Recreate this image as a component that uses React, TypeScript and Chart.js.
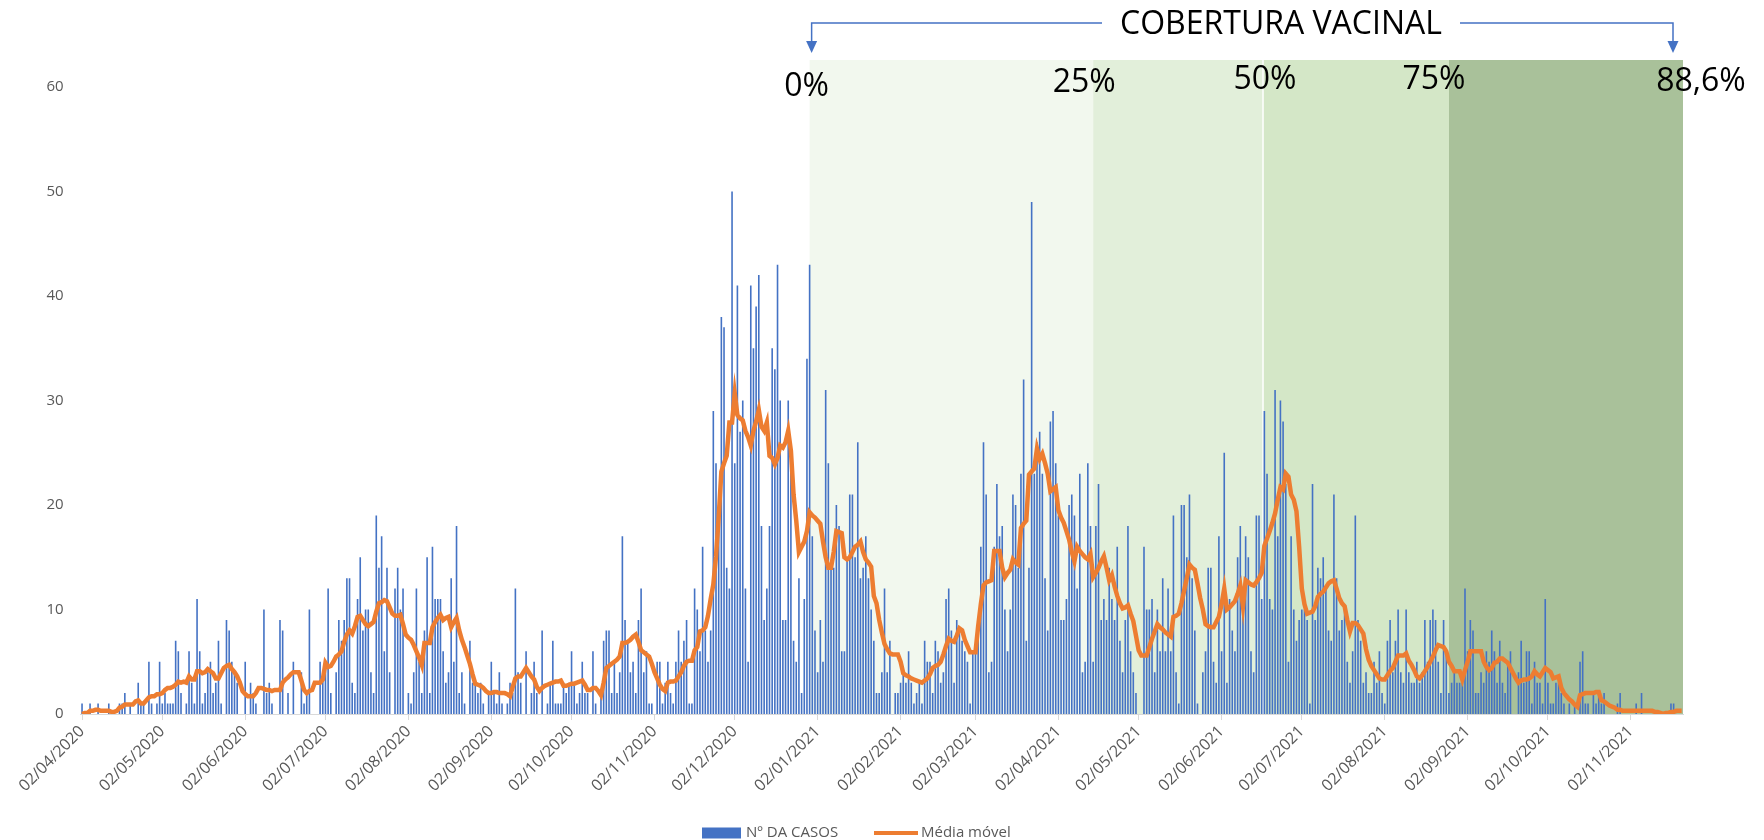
import React, { useEffect, useRef } from 'react';
import { Chart, registerables } from 'chart.js';

Chart.register(...registerables);

// ---------- DATA ----------
const START_DATE = '02/04/2020';

// Nº DA CASOS (daily cases), one value per day from 02/04/2020
const CASES: number[] = [
  1, 0, 0, 1, 0, 0, 1, 0, 0, 0,
  1, 0, 0, 0, 1, 1, 2, 0, 1, 0,
  0, 3, 1, 1, 0, 5, 1, 0, 1, 5,
  1, 2, 1, 1, 1, 7, 6, 2, 0, 1,
  6, 3, 1, 11, 6, 1, 2, 4, 5, 2,
  3, 7, 1, 0, 9, 8, 5, 4, 3, 0,
  0, 5, 0, 3, 2, 1, 0, 0, 10, 2,
  3, 1, 0, 0, 9, 8, 0, 2, 0, 5,
  0, 0, 4, 1, 2, 10, 0, 0, 0, 5,
  4, 5, 12, 2, 0, 4, 9, 7, 9, 13,
  13, 3, 2, 11, 15, 8, 10, 10, 4, 2,
  19, 14, 17, 6, 14, 4, 0, 12, 14, 10,
  12, 0, 2, 1, 4, 12, 5, 2, 8, 15,
  2, 16, 11, 11, 11, 6, 3, 4, 13, 5,
  18, 2, 4, 1, 0, 7, 3, 3, 2, 3,
  1, 0, 2, 5, 2, 1, 4, 1, 0, 1,
  3, 2, 12, 4, 3, 0, 6, 0, 2, 5,
  2, 0, 8, 0, 1, 3, 7, 1, 1, 1,
  3, 2, 3, 6, 3, 1, 2, 5, 2, 2,
  0, 6, 1, 0, 2, 7, 8, 8, 2, 5,
  2, 4, 17, 9, 7, 4, 5, 2, 9, 12,
  4, 6, 1, 1, 0, 5, 5, 1, 3, 5,
  2, 1, 5, 8, 5, 7, 9, 1, 1, 12,
  10, 6, 16, 8, 5, 8, 29, 24, 20, 38,
  37, 14, 12, 50, 24, 41, 27, 30, 12, 5,
  41, 35, 39, 42, 18, 9, 12, 18, 35, 33,
  43, 30, 9, 9, 30, 26, 7, 5, 13, 2,
  11, 34, 43, 17, 8, 4, 9, 5, 31, 24,
  14, 14, 20, 18, 6, 6, 15, 21, 21, 15,
  26, 13, 14, 17, 13, 10, 7, 2, 2, 4,
  12, 4, 7, 0, 2, 2, 3, 4, 3, 6,
  3, 1, 2, 3, 1, 7, 5, 5, 2, 7,
  6, 3, 4, 11, 12, 8, 3, 9, 8, 7,
  6, 5, 1, 6, 6, 9, 16, 26, 21, 4,
  5, 16, 22, 17, 18, 10, 6, 10, 21, 20,
  14, 23, 32, 7, 14, 49, 23, 26, 27, 23,
  13, 8, 28, 29, 24, 19, 9, 9, 11, 20,
  21, 19, 12, 23, 4, 5, 24, 18, 5, 18,
  22, 9, 11, 9, 14, 11, 9, 16, 7, 4,
  9, 18, 6, 4, 2, 0, 0, 16, 10, 10,
  11, 4, 10, 6, 13, 6, 12, 6, 19, 4,
  1, 20, 20, 15, 21, 13, 8, 1, 0, 4,
  6, 14, 14, 5, 3, 17, 6, 25, 3, 11,
  8, 6, 15, 18, 10, 17, 15, 6, 4, 19,
  19, 11, 29, 23, 11, 10, 31, 17, 30, 28,
  22, 5, 17, 10, 7, 9, 10, 10, 9, 1,
  22, 9, 14, 13, 15, 12, 8, 7, 21, 13,
  8, 9, 10, 5, 3, 6, 19, 9, 7, 3,
  4, 2, 2, 5, 3, 6, 2, 1, 7, 9,
  4, 7, 10, 4, 3, 10, 4, 3, 3, 5,
  3, 4, 9, 5, 9, 10, 9, 5, 2, 9,
  6, 2, 3, 4, 3, 3, 4, 12, 6, 9,
  8, 2, 2, 4, 3, 6, 5, 8, 6, 3,
  7, 3, 2, 5, 6, 0, 0, 4, 7, 3,
  6, 6, 1, 5, 3, 3, 1, 11, 3, 1,
  1, 3, 3, 2, 1, 0, 1, 0, 1, 0,
  5, 6, 1, 1, 0, 2, 1, 2, 1, 2,
  0, 0, 0, 0, 1, 2, 0, 0, 0, 0,
  0, 1, 0, 2, 0, 0, 0, 0, 0, 0,
  0, 0, 0, 0, 1, 1, 0, 0, 0,
];

// Média móvel, one value per day
const MOVING_AVG: number[] = [
  0, 0.1, 0.1, 0.3, 0.3, 0.4, 0.4, 0.3, 0.3, 0.3,
  0.3, 0.2, 0.2, 0.3, 0.6, 0.7, 0.9, 0.9, 0.9, 0.9,
  1.2, 1.3, 1.0, 1.0, 1.3, 1.6, 1.7, 1.7, 1.9, 1.9,
  2.0, 2.3, 2.5, 2.5, 2.6, 2.8, 3.1, 3.0, 3.1, 3.0,
  3.6, 3.3, 3.3, 4.1, 4.1, 3.9, 4.0, 4.3, 4.1, 3.9,
  3.4, 3.4, 3.9, 4.4, 4.6, 4.7, 4.3, 4.0, 3.6, 3.0,
  2.2, 1.9, 1.7, 1.7, 1.7, 2.0, 2.5, 2.5, 2.4, 2.3,
  2.3, 2.2, 2.3, 2.3, 2.3, 3.0, 3.3, 3.5, 3.8, 4.0,
  4.0, 4.0, 3.2, 2.3, 2.0, 2.2, 2.3, 3.0, 3.0, 3.0,
  3.3, 4.9, 4.5, 4.6, 5.0, 5.5, 5.7, 6.0, 6.9, 7.6,
  8.0, 7.7, 8.4, 9.3, 9.4, 9.0, 8.6, 8.4, 8.6, 8.8,
  9.8, 10.6, 10.7, 10.9, 10.8, 10.2, 9.6, 9.4, 9.4, 9.5,
  8.6, 7.6, 7.3, 7.1, 6.6, 6.0, 5.4, 4.7, 6.8, 6.8,
  6.8, 8.3, 8.8, 9.2, 9.5, 9.0, 9.2, 9.3, 8.3, 8.8,
  9.2, 8.0, 7.1, 6.4, 5.6, 4.8, 3.8, 2.9, 2.8, 2.7,
  2.5, 2.2, 2.0, 2.0, 2.1, 2.1, 2.0, 2.0, 2.0, 1.9,
  1.7, 2.6, 3.4, 3.6, 3.6, 4.0, 4.4, 4.0, 3.6, 3.3,
  2.6, 2.2, 2.5, 2.7, 2.8, 2.9, 3.0, 3.1, 3.1, 3.2,
  2.7, 2.7, 2.8, 2.9, 2.9, 3.0, 3.1, 3.2, 2.8, 2.3,
  2.3, 2.5, 2.5, 2.2, 1.8, 3.0, 4.4, 4.6, 4.8, 5.0,
  5.2, 5.5, 6.8, 6.8, 6.9, 7.1, 7.4, 7.6, 6.9, 6.1,
  5.9, 5.7, 5.5, 4.8, 4.0, 3.4, 2.8, 2.4, 2.2, 3.0,
  3.1, 3.1, 3.2, 3.6, 4.0, 4.6, 5.0, 5.1, 5.1, 6.1,
  6.4, 7.9, 8.0, 8.3, 9.4, 11.0, 12.4, 15.1, 18.8, 23.2,
  24.0, 24.7, 27.9, 27.9, 30.7, 28.6, 28.3, 28.1, 27.1, 26.5,
  25.7, 27.1, 28.0, 29.1, 27.5, 27.1, 27.9, 24.7, 24.5, 23.9,
  24.5, 25.7, 25.5, 26.0, 27.1, 25.2, 21.0, 18.5, 15.5, 16.0,
  16.5, 17.5, 19.3, 19.0, 18.8, 18.5, 18.2, 16.5, 15.0, 14.0,
  14.0, 15.5, 17.5, 17.4, 17.3, 15.0, 14.8, 15.0, 15.5, 16.0,
  16.2, 16.5, 15.5, 14.8, 14.5, 14.1, 11.3, 10.6, 9.0, 7.8,
  6.7, 6.2, 5.8, 5.7, 5.7, 5.7, 5.0, 3.9, 3.7, 3.6,
  3.4, 3.3, 3.2, 3.1, 3.0, 3.2, 3.4, 3.8, 4.4, 4.6,
  4.7, 5.0, 5.7, 6.5, 7.2, 7.0, 6.9, 7.5, 8.2, 8.0,
  7.1, 6.5, 5.9, 5.9, 5.9, 8.4, 10.5, 12.3, 12.6, 12.7,
  12.8, 15.6, 15.6, 15.6, 14.0, 13.1, 13.5, 13.8, 14.8, 14.5,
  14.3, 17.8, 18.2, 18.5, 22.9, 23.2, 23.5, 25.4, 24.4, 24.9,
  24.0, 23.0, 21.3, 21.5, 21.7, 19.5, 18.8, 18.3, 17.5, 16.7,
  15.5, 14.6, 16.0, 15.6, 15.3, 15.0, 14.8, 15.3, 13.1, 13.5,
  14.0, 14.6, 15.1, 14.0, 12.8, 13.3, 12.2, 11.3, 10.6, 10.1,
  10.2, 10.4, 9.6, 8.9, 7.5, 6.1, 5.6, 5.6, 5.6, 6.4,
  7.2, 7.9, 8.6, 8.3, 8.1, 7.8, 7.6, 7.4, 9.3, 9.4,
  9.6, 10.6, 11.8, 13.0, 14.3, 14.0, 13.8, 12.5, 11.1, 10.0,
  8.6, 8.4, 8.3, 8.3, 8.8, 9.3, 10.5, 12.0, 10.0, 10.2,
  10.5, 10.8, 11.5, 12.3, 10.3, 12.8, 12.6, 12.4, 12.3, 12.6,
  13.0, 13.5, 16.1, 16.8, 17.5, 18.3, 19.2, 20.5, 21.7, 21.5,
  23.0, 22.7, 21.0, 20.5, 19.4, 16.0, 12.0, 10.5, 9.6, 9.7,
  9.8, 10.3, 11.2, 11.5, 11.7, 12.1, 12.5, 12.7, 12.8, 12.0,
  11.1, 10.6, 10.3, 9.0, 7.9, 8.7, 8.7, 8.5, 8.1, 7.7,
  6.2, 5.2, 4.6, 4.2, 3.8, 3.4, 3.3, 3.3, 3.7, 4.1,
  4.4, 5.0, 5.6, 5.6, 5.6, 5.8, 5.1, 4.7, 4.2, 3.6,
  3.4, 3.7, 4.1, 4.5, 5.0, 5.5, 6.1, 6.6, 6.5, 6.4,
  6.0, 5.0, 4.6, 4.1, 4.1, 4.1, 3.3, 4.2, 5.0, 6.0,
  6.0, 6.0, 6.0, 6.0, 5.0, 4.5, 4.2, 4.4, 4.9, 5.0,
  5.3, 5.3, 5.1, 4.9, 4.4, 3.9, 3.4, 3.0, 3.2, 3.3,
  3.3, 3.4, 3.6, 4.1, 3.8, 3.6, 4.0, 4.4, 4.2, 4.0,
  3.4, 3.5, 3.6, 2.5, 2.0, 1.7, 1.4, 1.2, 0.9, 0.7,
  1.8, 1.9, 2.0, 2.0, 2.0, 2.0, 2.1, 2.1, 1.3, 1.2,
  1.0, 0.8, 0.7, 0.6, 0.4, 0.4, 0.3, 0.3, 0.3, 0.3,
  0.3, 0.3, 0.3, 0.3, 0.3, 0.3, 0.3, 0.3, 0.2, 0.2,
  0.1, 0.0, 0.1, 0.1, 0.2, 0.2, 0.3, 0.3, 0.3,
];

const MONTH_TICKS: string[] = [
  '02/04/2020', '02/05/2020', '02/06/2020', '02/07/2020', '02/08/2020',
  '02/09/2020', '02/10/2020', '02/11/2020', '02/12/2020', '02/01/2021',
  '02/02/2021', '02/03/2021', '02/04/2021', '02/05/2021', '02/06/2021',
  '02/07/2021', '02/08/2021', '02/09/2021', '02/10/2021', '02/11/2021',
];

const Y_TICKS: number[] = [0, 10, 20, 30, 40, 50, 60];

const SERIES_NAMES = ['Nº DA CASOS', 'Média móvel'];
const SERIES_COLORS = ['#4472C4', '#ED7D31'];

const COVERAGE_TITLE = 'COBERTURA VACINAL';
const COVERAGE_LABELS = ['0%', '25%', '50%', '75%', '88,6%'];
const COVERAGE_DATES = ['30/12/2020', '15/04/2021', '17/06/2021', '26/08/2021', '21/11/2021'];
const BAND_COLORS = ['#F2F8EE', '#E2EFDA', '#D4E7C7', '#A9C19A'];

// ---------- helpers ----------
const pad2 = (n: number) => (n < 10 ? '0' + n : String(n));
function buildDayLabels(start: string, count: number): string[] {
  const [d, m, y] = start.split('/').map(Number);
  const out: string[] = [];
  for (let i = 0; i < count; i++) {
    const dt = new Date(Date.UTC(y, m - 1, d + i));
    out.push(`${pad2(dt.getUTCDate())}/${pad2(dt.getUTCMonth() + 1)}/${dt.getUTCFullYear()}`);
  }
  return out;
}

const FONT = "'Open Sans', 'DejaVu Sans', sans-serif";

export default function App() {
  const canvasRef = useRef<HTMLCanvasElement | null>(null);

  useEffect(() => {
    const canvas = canvasRef.current;
    if (!canvas) return;
    const labels = buildDayLabels(START_DATE, CASES.length);
    const monthSet = new Set(MONTH_TICKS);

    const coveragePlugin = {
      id: 'coverage',
      beforeDraw(chart: any) {
        const { ctx, chartArea, scales } = chart;
        const x = scales.x;
        const half = (x.getPixelForValue(1) - x.getPixelForValue(0)) / 2;
        const xs = COVERAGE_DATES.map((d, i) => {
          const idx = labels.indexOf(d);
          if (i === COVERAGE_DATES.length - 1) return chartArea.right;
          return x.getPixelForValue(idx) + (i === 2 ? half : 0);
        });
        const top = chartArea.top - 27;
        ctx.save();
        for (let i = 0; i < BAND_COLORS.length; i++) {
          ctx.fillStyle = BAND_COLORS[i];
          ctx.fillRect(xs[i], top, xs[i + 1] - xs[i], chartArea.bottom - top);
        }
        ctx.strokeStyle = '#FFFFFF';
        ctx.lineWidth = 1.5;
        ctx.beginPath();
        ctx.moveTo(xs[2], top);
        ctx.lineTo(xs[2], chartArea.bottom);
        ctx.stroke();
        ctx.restore();
        (chart as any).$coverageXs = xs;
      },
      afterDraw(chart: any) {
        const { ctx, chartArea } = chart;
        const xs: number[] = (chart as any).$coverageXs;
        if (!xs) return;
        ctx.save();
        // percentage labels
        ctx.font = `32px ${FONT}`;
        ctx.fillStyle = '#000000';
        ctx.textAlign = 'center';
        ctx.textBaseline = 'middle';
        const dx = [-3, -9, 2, -15, 18];
        const yc = [87, 83, 80, 80, 82];
        COVERAGE_LABELS.forEach((t, i) => {
          ctx.fillText(t, xs[i] + dx[i], yc[i]);
        });
        // bracket with title
        const lineY = 23;
        const left = xs[0] + 2;
        const right = chartArea.right - 10;
        const cx = 1281;
        const tw = ctx.measureText(COVERAGE_TITLE).width;
        ctx.fillText(COVERAGE_TITLE, cx, 25);
        ctx.strokeStyle = '#4472C4';
        ctx.fillStyle = '#4472C4';
        ctx.lineWidth = 1.5;
        ctx.beginPath();
        ctx.moveTo(left, 42);
        ctx.lineTo(left, lineY);
        ctx.lineTo(cx - tw / 2 - 18, lineY);
        ctx.moveTo(cx + tw / 2 + 18, lineY);
        ctx.lineTo(right, lineY);
        ctx.lineTo(right, 42);
        ctx.stroke();
        [left, right].forEach((ax) => {
          ctx.beginPath();
          ctx.moveTo(ax - 5.5, 41);
          ctx.lineTo(ax + 5.5, 41);
          ctx.lineTo(ax, 53);
          ctx.closePath();
          ctx.fill();
        });
        // legend
        const ly = 833;
        ctx.font = `15px ${FONT}`;
        ctx.textAlign = 'left';
        ctx.textBaseline = 'middle';
        ctx.fillStyle = SERIES_COLORS[0];
        ctx.fillRect(702, ly - 5.5, 39, 11);
        ctx.fillStyle = '#595959';
        ctx.fillText(SERIES_NAMES[0], 746, ly);
        ctx.strokeStyle = SERIES_COLORS[1];
        ctx.lineWidth = 4;
        ctx.beginPath();
        ctx.moveTo(874, ly);
        ctx.lineTo(918, ly);
        ctx.stroke();
        ctx.fillText(SERIES_NAMES[1], 921, ly);
        ctx.restore();
      },
    };

    Chart.defaults.font.family = FONT;

    const chart = new Chart(canvas, {
      type: 'bar',
      data: {
        labels,
        datasets: [
          {
            type: 'line',
            label: SERIES_NAMES[1],
            data: MOVING_AVG.slice(0, labels.length),
            borderColor: SERIES_COLORS[1],
            backgroundColor: SERIES_COLORS[1],
            borderWidth: 4.5,
            pointRadius: 0,
            tension: 0,
            order: 0,
          } as any,
          {
            type: 'bar',
            label: SERIES_NAMES[0],
            data: CASES,
            backgroundColor: SERIES_COLORS[0],
            barPercentage: 0.6,
            categoryPercentage: 1.0,
            order: 1,
          },
        ],
      },
      options: {
        responsive: false,
        animation: false,
        layout: { padding: { top: 87, right: 81, left: 0, bottom: 36 }, autoPadding: false } as any,
        plugins: {
          legend: { display: false },
          tooltip: { enabled: false },
        },
        scales: {
          x: {
            type: 'category',
            offset: true,
            grid: {
              display: true,
              drawOnChartArea: false,
              drawTicks: true,
              tickLength: 6,
              offset: false,
              color: (c: any) => (c.tick && monthSet.has(labels[c.index]) ? '#D9D9D9' : 'rgba(0,0,0,0)'),
            },
            border: { display: true, color: '#D9D9D9', width: 1 },
            ticks: {
              autoSkip: false,
              maxRotation: 45,
              minRotation: 45,
              color: '#595959',
              font: { size: 16 },
              padding: 2,
              callback: (_v: any, i: number) => (monthSet.has(labels[i]) ? labels[i] : ''),
            },
            afterFit: (s: any) => {
              s.height = 90;
            },
          },
          y: {
            min: Y_TICKS[0],
            max: Y_TICKS[Y_TICKS.length - 1],
            grid: { display: false, drawTicks: false },
            border: { display: false },
            ticks: {
              stepSize: Y_TICKS[1] - Y_TICKS[0],
              color: '#595959',
              font: { size: 15 },
              padding: 17,
            },
            afterFit: (s: any) => {
              s.width = 80.7;
            },
          },
        },
      },
      plugins: [coveragePlugin],
    });

    return () => {
      chart.destroy();
    };
  }, []);

  return (
    <div style={{ position: 'absolute', left: 0, top: 0, width: 1764, height: 840, background: '#FFFFFF' }}>
      <canvas ref={canvasRef} width={1764} height={840} style={{ display: 'block' }} />
    </div>
  );
}
